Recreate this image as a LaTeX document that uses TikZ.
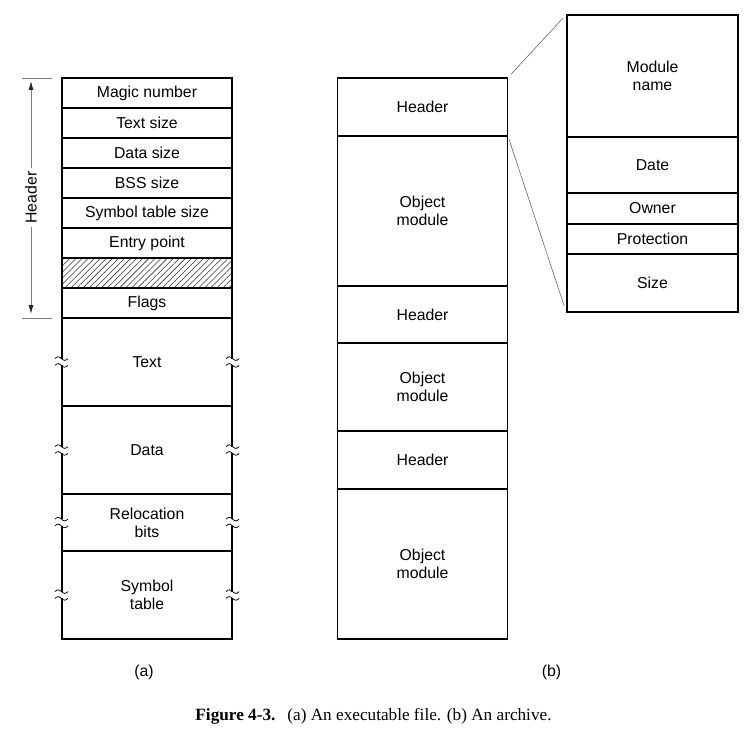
\documentclass[tikz,border=0pt]{standalone}
\usepackage{fontspec}
\setmainfont{Liberation Sans}
\newfontfamily\capfont{Liberation Serif}
\usetikzlibrary{arrows.meta,patterns.meta}

\tikzset{
  cell/.style={draw, line width=1.2pt, inner sep=0pt, align=center,
    font=\fontsize{15.8}{18}\selectfont},
  acell/.style={cell, minimum width=170pt},
  bcell/.style={cell, minimum width=170pt},
  dcell/.style={cell, minimum width=171pt},
  hatched/.style={pattern={Lines[angle=45,distance=4.3pt,line width=0.55pt]},
    pattern color=black!80},
  dimline/.style={draw=black!50, line width=0.8pt},
  dimtip/.tip={Latex[length=9pt,width=5pt,color=black!85]},
  zoomline/.style={draw=black!60, line width=0.6pt},
  sublabel/.style={font=\fontsize{15.8}{18}\selectfont},
  % broken-edge mark: two small waves interrupting a vertical border
  brk/.pic={
    \fill[white] (-2,-3.4) rectangle (2,3.4);
    \draw[line width=0.75pt] (-6.5,-3.4) sin (-3.25,-5.2) cos (0,-3.4) sin (3.25,-1.6) cos (6.5,-3.4);
    \draw[line width=0.75pt] (-6.5,3.4) sin (-3.25,1.6) cos (0,3.4) sin (3.25,5.2) cos (6.5,3.4);
  }
}

\begin{document}
\begin{tikzpicture}[x=1pt,y=-1pt]
\useasboundingbox[fill=white] (0,0) rectangle (744,754);

% ---- (a) executable file ----
\node[acell, minimum height=30pt] (a1) at (147,93) {Magic number};
\node[acell, minimum height=30pt] (a2) at (147,123) {Text size};
\node[acell, minimum height=30pt] (a3) at (147,153) {Data size};
\node[acell, minimum height=30pt] (a4) at (147,183) {BSS size};
\node[acell, minimum height=30pt] (a5) at (147,213) {Symbol table size};
\node[acell, minimum height=30pt] (a6) at (147,243) {Entry point};
\node[acell, minimum height=30pt, hatched] (a7) at (147,273) {};
\node[acell, minimum height=30pt] (a8) at (147,303) {Flags};
\node[acell, minimum height=88pt] (a9) at (147,362) {Text};
\node[acell, minimum height=88pt] (a10) at (147,450) {Data};
\node[acell, minimum height=57pt] (a11) at (147,522.5) {Relocation\\bits};
\node[acell, minimum height=88pt] (a12) at (147,595) {Symbol\\table};

\foreach \n in {a9,a10,a11,a12}{
  \pic at (\n.west) {brk};
  \pic at (\n.east) {brk};
}

% header extent
\coordinate (ht) at (22,78);
\coordinate (hb) at (22,318);
\draw[dimline] (ht) -- ++(30,0);
\draw[dimline] (hb) -- ++(30,0);
\coordinate (htt) at (31,81);
\coordinate (hbb) at (31,314);
\draw[dimline, dimtip-dimtip]
  (htt) -- node[fill=white, rotate=90, inner sep=4pt, text=black, sublabel] {Header} (hbb);

\node[sublabel] (la) at (144,672) {(a)};

% ---- (b) archive ----
\node[bcell, minimum height=58pt] (b1) at (422.5,107) {Header};
\node[bcell, minimum height=150pt] (b2) at (422.5,211) {Object\\module};
\node[bcell, minimum height=57pt] (b3) at (422.5,314.5) {Header};
\node[bcell, minimum height=88pt] (b4) at (422.5,387) {Object\\module};
\node[bcell, minimum height=58pt] (b5) at (422.5,460) {Header};
\node[bcell, minimum height=150pt] (b6) at (422.5,564) {Object\\module};

% module header detail
\node[dcell, minimum height=122pt] (d1) at (652.5,76) {Module\\name};
\node[dcell, minimum height=56pt] (d2) at (652.5,165) {Date};
\node[dcell, minimum height=31pt] (d3) at (652.5,208.5) {Owner};
\node[dcell, minimum height=30pt] (d4) at (652.5,239) {Protection};
\node[dcell, minimum height=58pt] (d5) at (652.5,283) {Size};

\draw[zoomline, shorten <=4pt, shorten >=5.5pt] (b1.north east) -- (d1.north west);
\draw[zoomline, shorten <=3pt, shorten >=7pt] (b1.south east) -- (d5.south west);

\node[sublabel] (lb) at (551.5,672) {(b)};

% caption
\node[font=\capfont\fontsize{17.2}{20}\selectfont] (cap) at (373.5,716)
  {\textbf{Figure 4-3.}\hspace{0.7em}(a) An executable file. (b) An archive.};
\end{tikzpicture}
\end{document}
